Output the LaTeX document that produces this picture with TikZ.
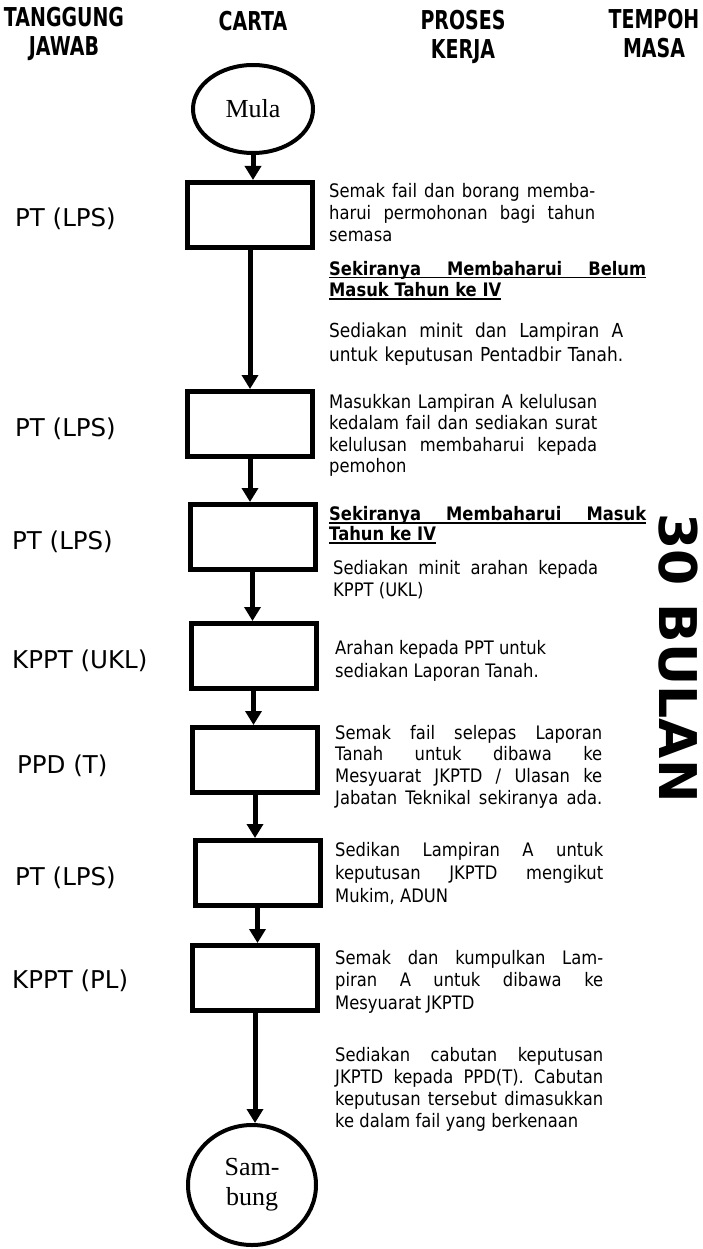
\documentclass[tikz,border=0pt]{standalone}
\usepackage{fontspec}
\setmainfont{DejaVu Sans}
\newfontfamily\tah{DejaVu Sans}[FakeStretch=0.88]
\newfontfamily\hdrf{DejaVu Sans}[FakeStretch=0.73]
\newfontfamily\serf{Liberation Serif}
\usetikzlibrary{arrows.meta,shapes.geometric}
\newcommand{\jl}[2]{\makebox[#1][s]{#2}}
\newcommand{\hl}[2]{\makebox[#1][s]{#2}\llap{\rule[-3.5pt]{#1}{1.8pt}}}
\newcommand{\ulnat}[1]{\setbox0\hbox{#1}\rlap{\rule[-3.5pt]{\wd0}{1.8pt}}\box0}
\newcommand{\blk}[2]{\vtop{\baselineskip=#1\relax #2}}
\begin{document}
\begin{tikzpicture}[x=1pt,y=-1pt,
  box/.style={draw, line width=5pt, minimum width=125pt, minimum height=65pt, inner sep=0},
  term/.style={draw, ellipse, line width=4pt, inner sep=0, font=\serf\fontsize{26}{30}\selectfont, align=center},
  arr/.style={line width=5pt, -{Triangle[width=16pt,length=14pt]}},
  lab/.style={anchor=west, font=\fontsize{24.5}{28}\selectfont, inner sep=0},
  hdr/.style={font=\hdrf\bfseries\fontsize{26}{29}\selectfont, align=center, inner sep=0},
  txt/.style={anchor=base west, inner sep=0, font=\tah\fontsize{18.6}{22}\selectfont},
  htxt/.style={anchor=base west, inner sep=0, font=\tah\bfseries\fontsize{18.6}{22}\selectfont}]
\useasboundingbox (0,0) rectangle (703,1249);

% headers
\node[hdr] (h1) at (64,34) {TANGGUNG\\JAWAB};
\node[hdr] (h2) at (253,21) {CARTA};
\node[hdr] (h3) at (463,37) {PROSES\\KERJA};
\node[hdr] (h4) at (654,34) {TEMPOH\\MASA};

% chart
\node[term, minimum width=120pt, minimum height=88pt] (mula) at (253,109) {Mula};
\node[box] (b1) at (250,215) {};
\node[box] (b2) at (250,424) {};
\node[box] (b3) at (252.5,537) {};
\node[box] (b4) at (253.5,656) {};
\node[box] (b5) at (255,760) {};
\node[box] (b6) at (257.5,873) {};
\node[box] (b7) at (255,978) {};
\node[term, minimum width=128pt, minimum height=120pt] (samb) at (252,1185) {Sam-\\bung};

\draw[arr] (mula.south) -- (mula.south |- b1.north);
\draw[arr] (b1.south) -- (b1.south |- b2.north);
\draw[arr] (b2.south) -- (b2.south |- b3.north);
\draw[arr] (b3.south) -- (b3.south |- b4.north);
\draw[arr] (b4.south) -- (b4.south |- b5.north);
\draw[arr] (b5.south) -- (b5.south |- b6.north);
\draw[arr] (b6.south) -- (b6.south |- b7.north);
\draw[arr] (b7.south) -- (b7.south |- samb.north);

% responsibility labels
\node[lab] (l1) at (15,219) {PT (LPS)};
\node[lab] (l2) at (15,429) {PT (LPS)};
\node[lab] (l3) at (12,542) {PT (LPS)};
\node[lab] (l4) at (12,661) {KPPT (UKL)};
\node[lab] (l5) at (17,766) {PPD (T)};
\node[lab] (l6) at (15,878) {PT (LPS)};
\node[lab] (l7) at (12,981) {KPPT (PL)};

% process texts
\node[txt] (t1) at (329,198) {\blk{22pt}{%
  \hbox{\jl{266pt}{Semak fail dan borang memba-}}
  \hbox{\jl{266pt}{harui permohonan bagi tahun}}
  \hbox{semasa}}};
\node[htxt] (t2) at (329,275) {\blk{21pt}{%
  \hbox{\hl{317pt}{Sekiranya Membaharui Belum}}
  \hbox{\ulnat{Masuk Tahun ke IV}}}};
\node[txt, font=\tah\fontsize{19.3}{23}\selectfont] (t3) at (329,337) {\blk{24pt}{%
  \hbox{\jl{294pt}{Sediakan minit dan Lampiran A}}
  \hbox{\jl{294pt}{untuk keputusan Pentadbir Tanah.}}}};
\node[txt] (t4) at (329,408) {\blk{21.5pt}{%
  \hbox{\jl{268pt}{Masukkan Lampiran A kelulusan}}
  \hbox{\jl{268pt}{kedalam fail dan sediakan surat}}
  \hbox{\jl{268pt}{kelulusan membaharui kepada}}
  \hbox{pemohon}}};
\node[htxt] (t5) at (329,520) {\blk{20pt}{%
  \hbox{\hl{317pt}{Sekiranya Membaharui Masuk}}
  \hbox{\ulnat{Tahun ke IV}}}};
\node[txt] (t6) at (333,574) {\blk{22pt}{%
  \hbox{\jl{265pt}{Sediakan minit arahan kepada}}
  \hbox{KPPT (UKL)}}};
\node[txt] (t7) at (335,654) {\blk{23pt}{%
  \hbox{Arahan kepada PPT untuk}
  \hbox{sediakan Laporan Tanah.}}};
\node[txt] (t8) at (335,739) {\blk{21.7pt}{%
  \hbox{\jl{267pt}{Semak fail selepas Laporan}}
  \hbox{\jl{267pt}{Tanah untuk dibawa ke}}
  \hbox{\jl{267pt}{Mesyuarat JKPTD / Ulasan ke}}
  \hbox{\jl{267pt}{Jabatan Teknikal sekiranya ada.}}}};
\node[txt] (t9) at (335,856) {\blk{23pt}{%
  \hbox{\jl{268pt}{Sedikan Lampiran A untuk}}
  \hbox{\jl{268pt}{keputusan JKPTD mengikut}}
  \hbox{Mukim, ADUN}}};
\node[txt] (t10) at (335,964) {\blk{22.5pt}{%
  \hbox{\jl{268pt}{Semak dan kumpulkan Lam-}}
  \hbox{\jl{268pt}{piran A untuk dibawa ke}}
  \hbox{Mesyuarat JKPTD}}};
\node[txt] (t11) at (335,1061) {\blk{22pt}{%
  \hbox{\jl{268pt}{Sediakan cabutan keputusan}}
  \hbox{\jl{268pt}{JKPTD kepada PPD(T). Cabutan}}
  \hbox{\jl{268pt}{keputusan tersebut dimasukkan}}
  \hbox{ke dalam fail yang berkenaan}}};

% duration
\node[rotate=-90, font=\bfseries\fontsize{52}{60}\selectfont, inner sep=0] (dur) at (678,658) {30 BULAN};
\end{tikzpicture}
\end{document}
